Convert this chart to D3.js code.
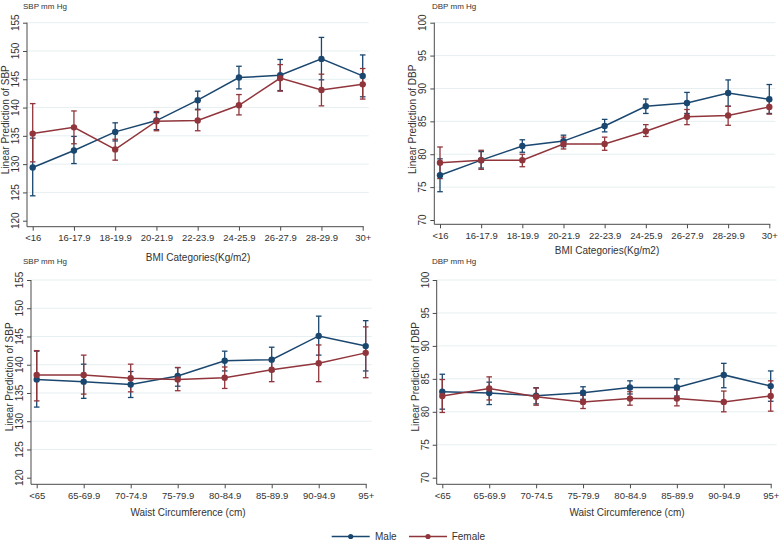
<!DOCTYPE html>
<html>
<head>
<meta charset="utf-8">
<script src="https://cdn.jsdelivr.net/npm/d3@7"></script>
<style>
  html, body { margin: 0; padding: 0; background: #fff; }
  svg { display: block; font-family: "Liberation Sans", Arial, sans-serif; }
</style>
</head>
<body>
<svg id="chart" width="780" height="542"></svg>
<script>
// ---------- Data ----------
const bmiCategories = ["<16", "16-17.9", "18-19.9", "20-21.9", "22-23.9", "24-25.9", "26-27.9", "28-29.9", "30+"];
const waistCategoriesSBP = ["<65", "65-69.9", "70-74.9", "75-79.9", "80-84.9", "85-89.9", "90-94.9", "95+"];
const waistCategoriesDBP = ["<65", "65-69.9", "70-74.5", "75-79.9", "80-84.9", "85-89.9", "90-94.9", "95+"];

const sbpTicks = [120, 125, 130, 135, 140, 145, 150, 155];
const dbpTicks = [70, 75, 80, 85, 90, 95, 100];

// SBP by BMI
const sbpBmiMale     = [129.4, 132.4, 135.7, 137.7, 141.3, 145.3, 145.7, 148.6, 145.6];
const sbpBmiMaleLo   = [124.4, 130.1, 134.1, 136.1, 139.7, 143.3, 143.0, 144.9, 141.9];
const sbpBmiMaleHi   = [134.6, 134.9, 137.3, 139.1, 142.9, 147.3, 148.5, 152.4, 149.3];
const sbpBmiFemale   = [135.4, 136.5, 132.6, 137.6, 137.7, 140.4, 145.2, 143.1, 144.1];
const sbpBmiFemaleLo = [130.4, 133.6, 130.7, 135.9, 135.9, 138.7, 142.9, 140.3, 141.5];
const sbpBmiFemaleHi = [140.7, 139.4, 134.4, 139.3, 139.6, 142.3, 147.6, 145.9, 146.9];

// DBP by BMI
const dbpBmiMale     = [76.8, 79.1, 81.25, 82.0, 84.3, 87.3, 87.8, 89.3, 88.35];
const dbpBmiMaleLo   = [74.3, 77.9, 80.3, 81.15, 83.4, 86.2, 86.2, 87.3, 86.2];
const dbpBmiMaleHi   = [79.3, 80.4, 82.2, 82.9, 85.3, 88.4, 89.4, 91.3, 90.6];
const dbpBmiFemale   = [78.7, 79.1, 79.1, 81.55, 81.55, 83.5, 85.7, 85.9, 87.2];
const dbpBmiFemaleLo = [76.3, 77.7, 78.1, 80.8, 80.6, 82.7, 84.5, 84.4, 86.1];
const dbpBmiFemaleHi = [81.1, 80.6, 80.0, 82.6, 82.6, 84.5, 86.8, 87.3, 88.2];

// SBP by waist circumference
const sbpWaistMale     = [137.4, 137.0, 136.5, 138.0, 140.7, 140.9, 145.1, 143.3];
const sbpWaistMaleLo   = [132.5, 134.05, 134.2, 136.2, 138.9, 138.8, 141.7, 138.9];
const sbpWaistMaleHi   = [142.4, 140.1, 138.8, 139.5, 142.4, 143.1, 148.6, 147.8];
const sbpWaistFemale   = [138.2, 138.2, 137.6, 137.4, 137.7, 139.1, 140.25, 142.1];
const sbpWaistFemaleLo = [133.6, 134.8, 135.2, 135.4, 135.8, 137.0, 137.0, 137.7];
const sbpWaistFemaleHi = [142.5, 141.7, 140.1, 139.5, 139.6, 141.1, 143.5, 146.7];

// DBP by waist circumference
const dbpWaistMale     = [83.05, 82.85, 82.45, 82.9, 83.7, 83.7, 85.6, 83.9];
const dbpWaistMaleLo   = [80.4, 81.1, 81.2, 81.9, 82.7, 82.4, 83.65, 81.6];
const dbpWaistMaleHi   = [85.7, 84.5, 83.65, 83.8, 84.7, 85.0, 87.35, 86.2];
const dbpWaistFemale   = [82.4, 83.55, 82.3, 81.5, 82.0, 82.0, 81.5, 82.4];
const dbpWaistFemaleLo = [79.9, 81.8, 81.0, 80.5, 81.0, 80.9, 80.0, 80.1];
const dbpWaistFemaleHi = [84.9, 85.3, 83.6, 82.5, 83.05, 83.3, 83.15, 84.7];

const seriesNames = ["Male", "Female"];
const seriesColors = ["#1a476f", "#90353b"];

// ---------- Layout (positions only) ----------
const panels = [
  { cats: bmiCategories, ticks: sbpTicks, unit: "SBP mm Hg", ytitle: "Linear Prediction of SBP", xtitle: "BMI Categories(Kg/m2)",
    male: [sbpBmiMale, sbpBmiMaleLo, sbpBmiMaleHi], female: [sbpBmiFemale, sbpBmiFemaleLo, sbpBmiFemaleHi],
    ax: 27, x0: 32.7, x1: 362.7, yTop: 22.7, yBot: 220.7, axisY: 226.7, titleX: 198, titleY: 260.5, unitX: 23, unitY: 8.5 },
  { cats: bmiCategories, ticks: dbpTicks, unit: "DBP mm Hg", ytitle: "Linear Prediction of DBP", xtitle: "BMI Categories(Kg/m2)",
    male: [dbpBmiMale, dbpBmiMaleLo, dbpBmiMaleHi], female: [dbpBmiFemale, dbpBmiFemaleLo, dbpBmiFemaleHi],
    ax: 434.3, x0: 440, x1: 769.3, yTop: 22.7, yBot: 220, axisY: 224.3, titleX: 607, titleY: 253.5, unitX: 432, unitY: 8.5 },
  { cats: waistCategoriesSBP, ticks: sbpTicks, unit: "SBP mm Hg", ytitle: "Linear Prediction of SBP", xtitle: "Waist Circumference (cm)",
    male: [sbpWaistMale, sbpWaistMaleLo, sbpWaistMaleHi], female: [sbpWaistFemale, sbpWaistFemaleLo, sbpWaistFemaleHi],
    ax: 31, x0: 36.7, x1: 365.7, yTop: 280, yBot: 477.7, axisY: 484.3, titleX: 188, titleY: 515.5, unitX: 23, unitY: 264 },
  { cats: waistCategoriesDBP, ticks: dbpTicks, unit: "DBP mm Hg", ytitle: "Linear Prediction of DBP", xtitle: "Waist Circumference (cm)",
    male: [dbpWaistMale, dbpWaistMaleLo, dbpWaistMaleHi], female: [dbpWaistFemale, dbpWaistFemaleLo, dbpWaistFemaleHi],
    ax: 436.7, x0: 442.3, x1: 770.7, yTop: 280, yBot: 477.7, axisY: 484.3, titleX: 627, titleY: 515.5, unitX: 432, unitY: 264 }
];

const svg = d3.select("#chart");
const axisColor = "#4a4a4a";
const gridColor = "#e6eff1";
const textColor = "#333";

panels.forEach(p => {
  const g = svg.append("g");
  const x = d3.scalePoint().domain(p.cats).range([p.x0, p.x1]);
  const y = d3.scaleLinear().domain([p.ticks[0], p.ticks[p.ticks.length - 1]]).range([p.yBot, p.yTop]);

  // grid lines (skip bottom tick)
  g.selectAll(".grid").data(p.ticks.slice(1)).enter().append("line")
    .attr("x1", p.ax).attr("x2", p.x1 + 6)
    .attr("y1", d => y(d)).attr("y2", d => y(d))
    .attr("stroke", gridColor).attr("stroke-width", 1);

  // y axis (custom rotated labels)
  const yAxis = d3.axisLeft(y).tickValues(p.ticks).tickSize(4).tickFormat("");
  const ya = g.append("g").attr("transform", `translate(${p.ax},0)`).call(yAxis);
  ya.select(".domain").remove();
  ya.selectAll(".tick line").attr("stroke", axisColor);
  g.append("line").attr("x1", p.ax).attr("x2", p.ax).attr("y1", p.yTop).attr("y2", p.axisY)
    .attr("stroke", axisColor).attr("stroke-width", 1);
  g.selectAll(".ylab").data(p.ticks).enter().append("text")
    .attr("transform", d => `translate(${p.ax - 11.5},${y(d)}) rotate(-90)`)
    .attr("text-anchor", "middle").attr("dy", "0.35em")
    .attr("font-size", 10).attr("fill", textColor)
    .text(d => d);

  // x axis
  const xAxis = d3.axisBottom(x).tickSize(4).tickSizeOuter(0);
  const xa = g.append("g").attr("transform", `translate(0,${p.axisY})`).call(xAxis);
  xa.select(".domain").remove();
  xa.selectAll(".tick line").attr("stroke", axisColor);
  xa.selectAll(".tick text").attr("font-size", 9.5).attr("fill", textColor)
    .attr("font-family", "Liberation Sans, Arial, sans-serif").attr("y", 8).attr("dy", "0.71em");
  g.append("line").attr("x1", p.ax).attr("x2", p.x1 + 1).attr("y1", p.axisY).attr("y2", p.axisY)
    .attr("stroke", axisColor).attr("stroke-width", 1);

  // titles
  g.append("text").attr("x", p.titleX).attr("y", p.titleY).attr("text-anchor", "middle")
    .attr("font-size", 10).attr("fill", textColor).text(p.xtitle);
  g.append("text")
    .attr("transform", `translate(${p.ax - 21.5},${(p.yTop + p.yBot) / 2 - 2}) rotate(-90)`)
    .attr("text-anchor", "middle").attr("dy", "0.35em")
    .attr("font-size", 10).attr("fill", textColor).text(p.ytitle);
  g.append("text").attr("x", p.unitX).attr("y", p.unitY)
    .attr("font-size", 8).attr("fill", textColor).text(p.unit);

  // series
  const series = [p.male, p.female];
  series.forEach((s, si) => {
    const color = seriesColors[si];
    const pts = p.cats.map((c, i) => ({ c, v: s[0][i], lo: s[1][i], hi: s[2][i] }));
    const eb = g.append("g");
    eb.selectAll("line.v").data(pts).enter().append("line")
      .attr("x1", d => x(d.c)).attr("x2", d => x(d.c))
      .attr("y1", d => y(d.lo)).attr("y2", d => y(d.hi))
      .attr("stroke", color).attr("stroke-width", 1.3);
    eb.selectAll("line.lo").data(pts).enter().append("line")
      .attr("x1", d => x(d.c) - 2.8).attr("x2", d => x(d.c) + 2.8)
      .attr("y1", d => y(d.lo)).attr("y2", d => y(d.lo))
      .attr("stroke", color).attr("stroke-width", 1.3);
    eb.selectAll("line.hi").data(pts).enter().append("line")
      .attr("x1", d => x(d.c) - 2.8).attr("x2", d => x(d.c) + 2.8)
      .attr("y1", d => y(d.hi)).attr("y2", d => y(d.hi))
      .attr("stroke", color).attr("stroke-width", 1.3);
  });
  series.forEach((s, si) => {
    const color = seriesColors[si];
    const pts = p.cats.map((c, i) => ({ c, v: s[0][i] }));
    g.append("path").datum(pts)
      .attr("d", d3.line().x(d => x(d.c)).y(d => y(d.v)))
      .attr("fill", "none").attr("stroke", color).attr("stroke-width", 1.5);
    g.selectAll(null).data(pts).enter().append("circle")
      .attr("cx", d => x(d.c)).attr("cy", d => y(d.v)).attr("r", 3.2)
      .attr("fill", color);
  });
});

// legend
const legendItems = [
  { name: seriesNames[0], color: seriesColors[0], lx: 331.7, tx: 375 },
  { name: seriesNames[1], color: seriesColors[1], lx: 409, tx: 451.7 }
];
const lg = svg.append("g");
const legendY = 536.5;
legendItems.forEach(it => {
  lg.append("line").attr("x1", it.lx).attr("x2", it.lx + 38).attr("y1", legendY).attr("y2", legendY)
    .attr("stroke", it.color).attr("stroke-width", 1.5);
  lg.append("circle").attr("cx", it.lx + 19).attr("cy", legendY).attr("r", 2.6).attr("fill", it.color);
  lg.append("text").attr("x", it.tx).attr("y", legendY).attr("dy", "0.33em")
    .attr("font-size", 10).attr("fill", textColor).text(it.name);
});
</script>
</body>
</html>
